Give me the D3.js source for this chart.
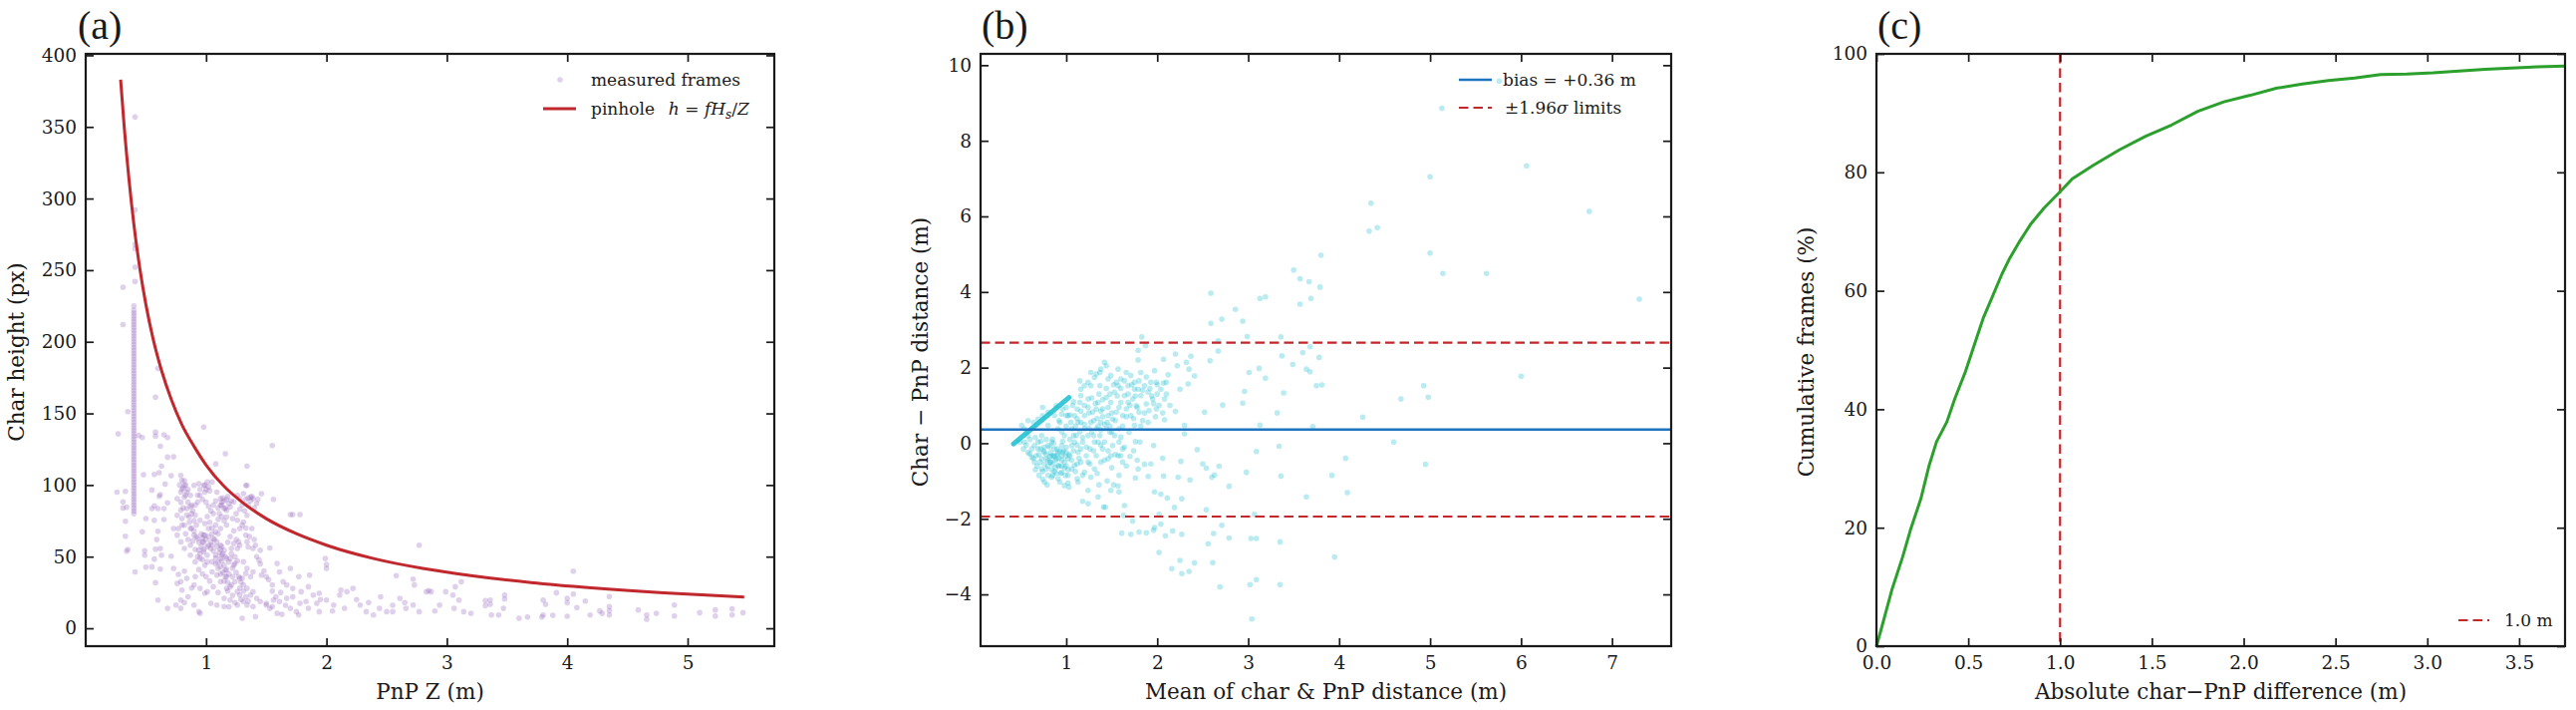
<!DOCTYPE html>
<html>
<head>
<meta charset="utf-8">
<script src="https://cdn.jsdelivr.net/npm/d3@7"></script>
<style>
  body { margin: 0; background: #fff; }
  svg text { font-family: "DejaVu Serif", serif; fill: #1a1a1a; }
</style>
</head>
<body>
<div id="graf"></div>
<script>
// ---- datos ----

// (a) measured frames: [PnP Z (m), char height (px)]
const framesA = [
  [0.27,135.7],[0.35,151.3],[0.26,95.1],[0.33,95.6],[0.31,88.2],[0.31,84.0],[0.34,84.5],[0.33,74.7],[0.33,64.3],[0.35,55.0],
  [0.34,53.8],[0.41,39.4],[0.47,67.3],[0.48,107.2],[0.47,133.2],[0.44,134.6],[0.58,161.3],[0.60,181.4],[0.58,136.9],[0.58,134.1],
  [0.65,135.0],[0.68,133.2],[0.62,127.1],[0.68,119.5],[0.73,119.7],[0.63,113.2],[0.61,108.6],[0.57,107.4],[0.71,106.5],[0.66,100.7],
  [0.55,96.5],[0.62,93.3],[0.61,92.1],[0.60,83.5],[0.55,83.5],[0.57,85.4],[0.68,87.5],[0.65,83.5],[0.50,76.6],[0.57,75.4],
  [0.65,75.9],[0.60,67.7],[0.59,61.9],[0.62,55.7],[0.58,55.2],[0.49,54.1],[0.49,51.0],[0.63,51.0],[0.57,48.3],[0.71,50.3],
  [0.50,42.7],[0.55,42.9],[0.62,41.3],[0.58,31.8],[0.60,19.7],[0.68,13.9],[0.75,16.2],[0.79,13.9],[0.79,19.7],[0.80,26.7],
  [0.76,31.3],[0.73,41.8],[0.77,37.6],[0.82,39.9],
  [0.79,106.7],[0.80,103.2],[0.82,99.8],[0.79,95.1],[0.76,90.5],[0.82,91.6],[0.84,95.1],[0.87,92.8],[0.90,99.8],[0.94,100.9],
  [0.98,99.8],[1.01,102.1],[1.02,98.6],[0.99,95.1],[0.95,92.8],[0.93,88.2],[0.88,85.8],[0.84,83.5],[0.79,82.4],[0.76,78.9],
  [0.80,76.6],[0.86,77.7],[0.91,78.9],[0.95,75.4],[0.99,73.1],[1.02,69.6],[0.98,65.0],[0.93,62.6],[0.97,60.3],[1.01,56.8],
  [1.05,58.0],[1.09,60.3],[1.12,58.0],[1.15,54.5],[1.13,51.0],[1.17,48.7],[1.19,46.4],[1.23,44.1],[1.16,40.6],[1.17,36.0],
  [1.22,36.0],[1.24,32.5],[1.28,34.8],[1.33,38.3],[1.31,30.2],[1.34,27.8],[1.37,23.2],[1.39,25.5],[1.42,20.9],[1.45,18.6],
  [1.50,16.2],[1.55,15.1],[1.56,19.7],[1.61,18.6],[1.67,20.9],[1.72,22.0],[1.78,17.4],[1.83,18.6],[1.89,23.2],[1.92,17.4],
  [1.94,11.6],[2.00,19.7],[2.06,16.2],[2.11,23.2],[2.12,26.7],[2.17,25.5],[2.22,27.8],[2.28,16.2],[2.33,11.6],[2.39,9.3],
  [2.44,13.9],[2.50,11.6],[2.55,11.6],[2.61,20.9],[2.66,13.9],[2.72,16.2],[2.77,11.6],[2.83,25.5],[2.87,25.5],[2.94,16.2],
  [2.99,25.5],[3.05,23.2],[3.06,13.9],[3.10,19.7],[3.14,11.6],[3.20,10.4],[2.77,58.0],[2.58,36.7],[2.72,34.3],[2.73,30.2],
  [2.85,26.2],[3.07,29.0],[3.12,32.5],
  [1.05,102.1],[1.09,95.1],[1.12,90.5],[1.13,85.8],[1.15,83.5],[1.17,82.4],[1.20,84.7],[1.23,88.2],[1.26,92.8],[1.28,90.5],
  [1.31,94.0],[1.34,99.8],[1.37,91.6],[1.39,90.5],[1.42,87.0],[1.46,94.0],[1.56,90.0],[1.34,78.9],[1.31,74.2],[1.26,75.4],
  [1.22,76.6],[1.17,77.7],[1.12,69.6],[1.08,67.3],[1.06,62.6],[1.04,55.7],[1.08,51.0],[1.12,48.7],[1.10,41.8],[1.05,39.4],
  [1.01,46.4],[0.95,48.7],[0.91,46.4],[0.87,51.0],[0.82,55.7],[0.79,60.3],[0.76,65.0],[0.73,69.6],[0.77,69.6],[0.82,71.9],
  [0.87,69.6],[0.90,65.0],[0.94,54.5],[0.98,53.4],[1.01,51.0],[1.05,46.4],[1.09,37.1],[1.12,32.5],[1.17,27.8],[1.21,30.2],
  [1.26,25.5],[1.28,23.2],[1.31,18.6],[1.34,16.2],[1.39,15.1],[1.26,16.2],[1.20,19.7],[1.15,20.9],[1.09,16.2],[1.04,17.4],
  [1.01,25.5],[0.99,24.4],[0.95,27.8],[0.90,30.2],[0.84,34.8],[0.79,32.5],[0.90,16.2],[0.94,11.6],[0.95,10.4],[1.15,15.1],
  [1.30,7.0],[1.41,8.1],[1.50,17.4],[1.53,13.9],[1.59,10.4],[1.63,9.7],[1.75,11.6],[1.77,9.3],[1.16,121.8],[1.08,114.8],
  [0.98,140.4],[1.55,127.6],[1.34,113.2],[1.33,99.8],[1.70,79.4],[1.72,79.4],[1.78,79.4],[1.38,69.6],[1.39,55.7],[1.41,58.0],
  [1.45,54.5],[1.53,56.1],[1.59,45.2],[1.61,39.4],[1.70,41.8],[1.77,36.0],[1.86,37.1],[1.99,48.7],[2.00,41.8],[2.00,44.5],
  [1.94,24.4],[1.85,29.0],[1.79,25.5],[1.72,27.8],[1.67,30.2],[1.64,32.5],[1.55,30.2],[1.50,36.0],[1.46,37.1],[1.44,47.6],
  [1.39,39.4],[1.37,36.0],[1.34,41.8],[1.31,46.4],[1.28,58.0],[1.26,55.7],[1.23,59.2],[1.21,55.7],[1.20,48.7],[1.24,45.2],
  [1.34,60.3],[1.35,56.8],[1.27,60.3],[1.28,69.6],[1.33,65.0],
  [1.13,88],[1.15,89],[1.17,90],[1.19,87],[1.12,86],[1.16,84],[1.14,91],[1.18,92],[1.21,89],[1.33,90],
  [1.35,91],[1.37,89],[1.38,92],[0.97,63],[0.98,60],[0.99,65],[1.00,62],[1.02,58],[0.96,66],[1.12,55],
  [1.14,52],[1.16,50],[1.13,57],[0.82,103],[0.83,100],[0.85,97],[0.81,98],[1.00,97],[0.99,100],[1.03,96],
  [0.88,80],[0.90,75],[0.92,72],[1.05,70],[1.08,72],[1.10,66],[1.10,76],[1.06,80],[1.20,64],[1.23,68],
  [1.25,62],[1.18,60],[1.21,52],[1.24,50],[1.26,47],[1.08,45],[1.12,38],[1.15,33],[1.18,26],[1.22,23],
  [1.28,28],[1.30,35],
  [0.78,100],[0.80,97],[0.83,93],[0.85,88],[0.87,85],[0.89,82],[0.91,86],[0.93,93],[0.95,97],[0.97,90],
  [0.79,88],[0.81,84],[0.84,79],[0.86,74],[0.88,70],[0.90,68],[0.92,64],[0.94,60],[0.96,57],[0.98,55],
  [0.80,72],[0.83,66],[0.85,62],[0.87,58],[0.89,61],[0.91,55],[0.93,50],[0.95,52],[0.97,48],[0.99,44],
  [1.00,88],[1.02,85],[1.04,82],[1.06,86],[1.08,89],[1.10,84],[1.11,80],[1.13,78],[1.15,75],[1.17,72],
  [1.01,78],[1.03,74],[1.05,66],[1.07,62],[1.09,57],[1.11,53],[1.13,47],[1.15,44],[1.17,41],[1.19,38],
  [1.02,64],[1.04,60],[1.06,54],[1.08,49],[1.10,46],[1.12,43],[1.14,39],[1.16,36],[1.18,32],[1.20,29],
  [1.22,42],[1.25,39],[1.27,36],[1.29,32],[1.31,26],[1.33,22],[1.35,19],[1.29,20],[1.24,18],[1.19,15],
  [1.10,25],[1.06,29],[1.03,33],[1.00,36],[0.97,38],[0.94,41],[0.91,36],[0.88,28],[0.85,22],[0.82,18],
  [1.25,80],[1.28,83],[1.30,86],[1.32,82],[1.35,86],[1.40,84],[1.43,90],[1.30,72],[1.33,70],[1.36,64],
  [1.40,62],[1.42,50],[1.45,45],[1.48,40],[1.52,34],[1.55,26],[1.58,22],[1.62,25],[1.66,16],[1.70,14],
  [1.85,14],[1.95,20],[2.05,12],[2.15,14],[2.25,20],[2.35,18],[2.45,22],[2.55,16],[2.65,18],[2.90,12],
  [0.41,357],[0.41,292],[0.41,268],[0.41,265],[0.41,252],[0.41,242],[0.31,238],[0.31,212],
  [3.32,19.3],[3.32,15.8],[3.36,19.7],[3.36,16.7],[3.37,9.3],[3.43,9.3],[3.47,13.9],[3.48,23.2],[3.48,20.4],[3.60,7.0],
  [3.67,7.9],[3.79,7.9],[3.80,9.3],[3.80,19.7],[3.82,16.7],[3.88,9.1],[3.91,24.8],[4.00,20.9],[4.00,17.9],[4.00,8.4],
  [4.05,39.9],[4.05,23.9],[4.08,14.4],[4.15,19.0],[4.19,9.3],[4.27,12.1],[4.29,10.4],[4.35,22.1],[4.35,15.1],[4.35,12.3],
  [4.35,9.3],[4.59,12.8],[4.66,9.3],[4.66,6.3],[4.74,10.4],[4.89,16.2],[4.89,8.6],[5.10,10.9],[5.23,12.8],[5.23,8.6],
  [5.37,13.5],[5.37,9.3],[5.46,10.9]
]

// (a) columna de frames a Z ~ 0.40 m
const columnZ = 0.40
const columnH = [80,82,84,86,88,90,92,94,96,98,100,102,104,106,108,110,112,114,116,118,120,122,124,126,128,130,
  132,134,136,138,140,142,144,146,148,150,152,154,156,158,160,162,164,166,168,170,172,174,176,178,180,182,184,186,
  188,190,192,194,196,198,200,202,204,206,208,210,212,214,216,218,220,222,225]

// (a) curva pinhole h = f Hs / Z
const pinholeZ = [0.29,0.32,0.36,0.40,0.45,0.50,0.56,0.63,0.71,0.80,0.90,1.00,1.15,1.30,1.50,1.75,2.00,2.40,2.80,3.20,3.70,4.20,4.80,5.47]
const pinholeH = [383,350,313,282,251,226,202,180,160,142,127,114,99,88,76.5,66,58,48.5,41.8,36.8,31.9,28.2,24.7,21.8]

// (b) Bland-Altman: [mean of char & PnP (m), char - PnP (m)]
const pointsB = [
  [4.33,5.61],[3.80,4.97],[3.50,4.58],[3.57,4.35],[3.67,4.27],[3.79,4.13],[3.69,3.83],[3.57,3.68],[3.13,3.83],[3.19,3.87],
  [2.59,3.97],[2.86,3.54],[2.71,3.28],[2.94,3.23],[2.59,3.17],[2.99,2.82],[2.67,2.71],[2.67,2.44],[2.58,2.18],[3.36,2.81],
  [3.37,2.31],[3.49,2.08],[3.60,2.40],[3.68,2.55],[3.78,2.27],[3.64,1.96],[3.68,1.89],[3.81,1.54],[3.75,1.52],[3.39,1.33],
  [3.01,1.87],[3.12,1.98],[3.19,1.72],[2.96,1.37],[2.94,1.06],[2.72,1.01],[2.52,0.82],[2.30,0.47],[2.30,0.25],[2.20,0.84],
  [2.08,0.62],[2.25,1.43],[2.34,1.57],[2.41,1.78],[2.35,1.96],[2.32,2.14],[2.37,2.30],[2.22,2.05],[2.20,2.36],[2.07,2.22],
  [2.12,1.81],[2.07,1.59],[1.99,1.61],[1.87,2.58],[1.83,2.81],[1.79,2.46],[1.79,2.20],[1.82,1.87],[3.13,0.48],[3.32,0.80],
  [3.71,0.44],[4.26,0.69],[3.09,-0.22],[3.34,-0.08],[3.36,-0.87],[2.98,-0.77],[2.79,-1.14],[2.68,-0.61],[2.63,-0.84],[2.60,-0.90],
  [2.54,-0.66],[2.50,-0.55],[2.44,-0.17],[2.36,-0.97],[2.26,-0.48],[2.23,-0.90],[2.27,-1.47],[2.19,-1.70],[2.11,-1.45],[2.04,-1.35],
  [1.97,-1.29],[1.93,-0.55],[1.86,-0.56],[1.79,-0.68],[1.76,-0.92],[1.90,-0.88],[2.07,-0.87],[1.96,-0.06],[2.06,-0.40],[1.81,0.03],
  [1.76,0.04],[1.64,-0.11],[1.60,0.16],[3.92,-0.85],[4.07,-0.40],[4.09,-1.31],[3.64,-1.42],[3.95,-3.01],[3.35,-2.61],[3.09,-2.52],
  [3.03,-2.52],[3.07,-1.88],[2.79,-2.51],[2.71,-2.17],[2.62,-2.39],[2.61,-3.16],[2.54,-1.76],[2.56,-2.66],[2.41,-3.17],[2.35,-3.39],
  [2.27,-3.45],[2.25,-3.10],[2.16,-3.32],[2.27,-2.41],[2.17,-2.32],[2.09,-2.45],[2.02,-2.89],[2.04,-2.14],[1.97,-2.23],[1.96,-2.30],
  [1.88,-2.37],[1.80,-2.35],[1.71,-2.41],[1.61,-2.38],[1.63,-1.91],[1.73,-2.06],[1.64,-1.65],[1.58,-1.29],[1.57,-1.13],[1.49,-1.25],
  [1.41,-1.69],[1.43,-1.69],[1.35,-1.42],[1.24,-1.60],[1.18,-1.54],[1.24,-1.25],[1.12,-0.94],[0.93,-1.03],[1.02,-1.05],[1.03,-1.16],
  [2.69,-3.80],[3.02,-3.74],[3.09,-3.61],[3.35,-3.74],[3.04,-4.65],[2.02,-1.88],
  [0.51,0.47],[0.53,-0.15],[0.54,0.03],[0.58,0.20],[0.62,0.38],[0.62,-0.37],[0.65,-0.06],[0.67,-0.33],[0.69,0.03],[0.71,-0.50],
  [0.73,0.20],[0.74,0.95],[0.76,-0.24],[0.78,-0.68],[0.80,-0.06],[0.80,0.47],[0.82,-0.50],[0.84,-0.33],[0.85,0.11],[0.85,-0.85],
  [0.87,0.73],[0.89,-0.41],[0.91,0.38],[0.91,-0.59],[0.93,0.55],[0.95,-0.06],[0.95,-0.77],[0.96,-0.24],[0.98,0.20],[0.98,-0.50],
  [1.00,0.73],[1.02,-0.85],[1.04,-0.33],[1.06,0.38],[1.06,-0.06],[1.07,1.00],[1.09,-0.59],[1.11,0.20],[1.13,0.55],[1.13,-0.24],
  [1.15,1.08],[1.15,1.65],[1.16,-0.50],[1.18,0.03],[1.20,0.73],[1.20,0.38],[1.22,-0.33],[1.24,1.17],[1.24,0.20],[1.26,-0.15],
  [1.27,1.87],[1.27,0.55],[1.29,0.82],[1.31,0.03],[1.33,1.83],[1.33,0.38],[1.35,1.08],[1.37,1.52],[1.37,0.20],[1.38,0.55],
  [1.40,0.91],[1.42,2.14],[1.42,0.03],[1.44,1.21],[1.44,0.38],[1.46,1.70],[1.46,0.73],[1.48,0.29],[1.49,1.08],[1.49,-0.33],
  [1.51,0.64],[1.53,1.35],[1.53,0.20],[1.55,0.82],[1.57,1.96],[1.57,1.52],[1.58,0.38],[1.60,1.08],[1.60,-0.33],[1.62,0.73],
  [1.64,1.26],[1.66,0.91],[1.68,1.52],[1.69,0.29],[1.71,1.79],[1.71,0.73],[1.73,1.17],[1.75,1.61],[1.75,0.47],[1.77,0.99],
  [1.79,1.43],[1.80,0.82],[1.82,1.26],[1.84,0.60],[1.86,1.52],[1.88,1.04],[1.90,1.35],[1.91,0.86],[1.93,1.61],[1.95,1.17],
  [1.97,1.92],[1.99,0.91],[2.00,1.30],[2.04,1.43],[2.08,1.17],[2.10,1.61],[1.57,-0.33],[1.62,-0.50],[1.58,0.03],[1.51,-0.06],
  [1.46,-0.41],[1.38,-0.50],[1.31,-0.68],[1.27,-0.90],[1.20,-0.77],[1.13,-1.03],[1.06,-0.68],[0.76,-1.03],[0.65,-0.50],[0.60,-0.28],
  [0.54,0.38],[0.80,-0.85],[0.91,-0.94],[0.98,-1.12],[0.73,-0.68],[1.16,0.55],[1.09,0.73],[1.02,0.73],[0.95,0.77],[0.89,0.99],
  [0.80,0.82],[0.74,0.73],[0.69,0.64],[0.64,0.55],[0.58,0.60],[0.49,0.03],[1.00,-0.11],[0.95,-0.33],[1.02,-0.41],[0.87,-0.33],
  [0.84,0.03],[0.78,-0.41],[0.73,-0.41],[0.69,-0.15],[1.09,0.03],[1.16,-0.15],[1.24,-0.50],[1.33,-0.33],[1.40,-0.15],[1.35,0.03],
  [1.16,1.43],[1.20,1.52],[1.24,1.61],[1.31,1.74],[1.38,1.96],[1.44,2.05],[1.37,1.87],[1.27,1.52],[1.49,1.79],[1.55,1.61],
  [1.60,1.70],[1.66,1.87],[1.16,1.26],[1.68,1.08],[1.75,1.43],
  [0.75,-0.20],[0.78,-0.30],[0.80,-0.45],[0.83,-0.25],[0.85,-0.55],[0.87,-0.15],[0.88,-0.45],[0.90,-0.30],[0.92,-0.60],[0.95,-0.45],
  [0.97,-0.20],[0.99,-0.35],[0.86,-0.35],[0.82,-0.10],[0.76,-0.55],[0.72,-0.15],[0.93,-0.20],[1.00,-0.60],[0.84,-0.70],[0.89,-0.80],
  [1.10,0.45],[1.15,0.30],[1.20,0.50],[1.25,0.40],[1.30,0.60],[1.35,0.45],[1.40,0.70],[1.45,0.55],[1.50,0.80],[1.25,0.80],
  [1.33,0.90],[1.12,0.65],[1.05,0.55],[0.95,0.30],[1.00,0.45],[1.08,0.20],[1.18,0.15],[1.28,0.30],[1.38,0.35],[1.48,0.45],
  [0.56,-0.05],[0.58,-0.25],[0.60,0.10],[0.62,-0.15],[0.64,-0.40],[0.66,0.15],[0.68,-0.60],[0.70,-0.30],[0.72,0.05],[0.74,-0.75],
  [0.76,-0.10],[0.78,0.10],[0.80,-0.60],[0.82,-0.35],[0.84,-0.90],[0.86,0.00],[0.88,-0.65],[0.90,-0.15],[0.92,-0.40],[0.94,-0.80],
  [0.96,0.05],[0.98,-0.65],[1.00,-0.25],[1.02,-0.70],[1.04,0.10],[1.06,-0.45],[1.08,-0.20],[1.10,-0.75],[1.12,-0.05],[1.14,-0.40],
  [0.66,-0.70],[0.70,-0.85],[0.74,-0.95],[0.79,-1.10],[0.83,-0.50],[0.87,-0.75],[0.91,-0.25],[0.95,-0.60],[0.99,-0.85],[1.03,-0.30],
  [0.92,0.60],[0.96,0.90],[1.00,0.95],[1.04,0.75],[1.08,1.10],[1.12,0.90],[1.16,0.85],[1.20,1.00],[1.24,0.95],[1.28,1.20],
  [1.32,1.05],[1.36,1.30],[1.40,1.15],[1.44,1.45],[1.48,1.30],[1.52,1.55],[1.56,1.25],[1.60,1.45],[1.64,1.65],[1.68,1.30],
  [1.72,1.55],[1.76,1.25],[1.80,1.65],[1.84,1.40],[1.88,1.75],[1.92,1.45],[1.96,1.05],[2.00,1.55],[1.30,0.20],[1.34,0.65],
  [1.38,0.85],[1.42,0.50],[1.46,0.95],[1.50,0.30],[1.54,0.60],[1.58,0.95],[1.62,0.45],[1.66,0.70],[1.70,1.00],[1.74,0.65],
  [1.78,0.95],[1.82,0.45],[1.86,0.80],[1.90,0.55],[1.94,1.25],[1.98,0.70],[2.02,1.00],[2.06,0.80],[2.10,1.30],[2.14,1.00],
  [1.12,-0.55],[1.18,-0.85],[1.22,-0.10],[1.26,-0.55],[1.30,-0.20],[1.34,-0.80],[1.38,-0.05],[1.42,-0.45],[1.46,-0.20],[1.50,-0.65],
  [1.54,-0.30],[1.58,-0.85],[1.62,-0.15],[1.66,-0.60],[1.70,-0.35],[1.74,-0.20],[1.78,-0.45],[1.45,-1.00],[1.52,-1.10],[1.36,-1.10],
  [4.35,6.35],[4.42,5.70],[5.00,7.05],[5.00,5.03],[5.14,4.49],[6.06,7.34],[6.75,6.13],[5.62,4.49],[7.30,3.81],[6.00,1.77],
  [4.93,1.52],[4.98,1.22],[4.68,1.17],[4.60,0.03],[4.95,-0.56],[5.76,9.58],[5.13,8.86]
]

// (b) franja diagonal de puntos superpuestos
const streakMean = [0.42, 1.03]
const streakDiff = [-0.02, 1.21]

const biasValue = 0.36
const loaValues = [-1.94, 2.66]

// (c) CDF de |char - PnP|
const cdfDiff = [0,0.028,0.085,0.142,0.185,0.242,0.285,0.327,0.384,0.427,0.484,0.526,0.583,0.626,0.683,0.726,0.783,0.839,0.911,0.996,
  1.067,1.181,1.323,1.466,1.608,1.750,1.892,2.035,2.177,2.319,2.462,2.604,2.746,2.888,3.031,3.173,3.315,3.458,3.600,3.75]
const cdfPct = [0,3.1,9.6,15.0,19.6,24.9,30.3,34.5,37.9,41.8,46.3,50.2,55.5,58.6,62.8,65.5,68.5,71.2,73.9,76.6,
  78.9,81.2,83.8,86.1,88.0,90.3,91.9,93.0,94.2,94.9,95.5,95.9,96.5,96.6,96.8,97.1,97.4,97.6,97.8,97.95]
const thresholdM = 1.0

// ticks
const ticksAx = [1,2,3,4,5], ticksAy = [0,50,100,150,200,250,300,350,400]
const ticksBx = [1,2,3,4,5,6,7], ticksBy = [-4,-2,0,2,4,6,8,10]
const ticksCx = [0,0.5,1,1.5,2,2.5,3,3.5], ticksCy = [0,20,40,60,80,100]

// ---- lienzo ----
const W = 2585, H = 712
const top_ = 54, bottom_ = 648
const red = '#c0282d', purple = '#9467bd', cyan = '#17becf', blue = '#1f74c0', green = '#2ca02c'

const svg = d3.select('#graf').append('svg').attr('width', W).attr('height', H)

function panel(left, right, xDom, yDom) {
  const x = d3.scaleLinear().domain(xDom).range([left, right])
  const y = d3.scaleLinear().domain(yDom).range([bottom_, top_])
  const g = svg.append('g')
  const data = g.append('g')
  const axes = g.append('g')
  return { x, y, g, data, axes, left, right }
}

function drawAxes(p, xTicks, yTicks, xFmt) {
  const a = p.axes
  a.append('g').attr('transform', `translate(0,${bottom_})`)
    .call(d3.axisBottom(p.x).tickValues(xTicks).tickSize(-8).tickPadding(10).tickFormat(xFmt || d3.format('d')))
  a.append('g').attr('transform', `translate(0,${top_})`)
    .call(d3.axisTop(p.x).tickValues(xTicks).tickSize(-8).tickFormat(''))
  a.append('g').attr('transform', `translate(${p.left},0)`)
    .call(d3.axisLeft(p.y).tickValues(yTicks).tickSize(-8).tickPadding(9))
  a.append('g').attr('transform', `translate(${p.right},0)`)
    .call(d3.axisRight(p.y).tickValues(yTicks).tickSize(-8).tickFormat(''))
  a.selectAll('.domain').remove()
  a.selectAll('.tick line').attr('stroke', '#1a1a1a').attr('stroke-width', 1.7)
  a.selectAll('.tick text').style('font-size', '18.5px').attr('fill', '#1a1a1a')
  a.append('rect').attr('x', p.left).attr('y', top_)
    .attr('width', p.right - p.left).attr('height', bottom_ - top_)
    .attr('fill', 'none').attr('stroke', '#1a1a1a').attr('stroke-width', 2.2)
}

function labels(p, lab, xl, yl, yx) {
  svg.append('text').attr('x', lab[0]).attr('y', 38.5).text(lab[1])
    .style('font-family', '"Liberation Serif", serif').style('font-size', '40px')
  svg.append('text').attr('x', (p.left + p.right) / 2).attr('y', 701)
    .attr('text-anchor', 'middle').style('font-size', '21.5px').text(xl)
  svg.append('text').attr('transform', `translate(${yx},353) rotate(-90)`)
    .attr('text-anchor', 'middle').style('font-size', '21.5px').text(yl)
}

// ---- (a) ----
const pA = panel(86, 777, [0, 5.72], [-12.5, 401])
const colPts = columnH.map(h => [columnZ, h])
pA.data.selectAll('circle.f').data(framesA.concat(colPts)).join('circle')
  .attr('cx', d => pA.x(d[0])).attr('cy', d => pA.y(d[1])).attr('r', 2.8)
  .attr('fill', purple).attr('fill-opacity', 0.3)
const pinLine = d3.line().x((d, i) => pA.x(pinholeZ[i])).y(d => pA.y(d)).curve(d3.curveMonotoneX)
pA.data.append('path').attr('d', pinLine(pinholeH))
  .attr('fill', 'none').attr('stroke', red).attr('stroke-width', 3)
drawAxes(pA, ticksAx, ticksAy)
labels(pA, [78, '(a)'], 'PnP Z (m)', 'Char height (px)', 24)

// leyenda (a)
svg.append('circle').attr('cx', 562).attr('cy', 80).attr('r', 2.8).attr('fill', purple).attr('fill-opacity', 0.3)
svg.append('text').attr('x', 593).attr('y', 80).attr('dy', '0.35em').style('font-size', '17px').text('measured frames')
svg.append('line').attr('x1', 545).attr('x2', 578).attr('y1', 109).attr('y2', 109).attr('stroke', red).attr('stroke-width', 3)
const tA = svg.append('text').attr('x', 593).attr('y', 109).attr('dy', '0.35em').style('font-size', '17px')
tA.append('tspan').text('pinhole\u2002 ')
tA.append('tspan').style('font-style', 'italic').text('h')
tA.append('tspan').text(' = ')
tA.append('tspan').style('font-style', 'italic').text('fH')
tA.append('tspan').style('font-style', 'italic').style('font-size', '12px').attr('dy', '4').text('s')
tA.append('tspan').attr('dy', '-4').text('/')
tA.append('tspan').style('font-style', 'italic').text('Z')

// ---- (b) ----
const pB = panel(984, 1677, [0.058, 7.65], [-5.37, 10.3])
pB.data.selectAll('circle.b').data(pointsB).join('circle')
  .attr('cx', d => pB.x(d[0])).attr('cy', d => pB.y(d[1])).attr('r', 2.8)
  .attr('fill', cyan).attr('fill-opacity', 0.3)
pB.data.append('line')
  .attr('x1', pB.x(streakMean[0])).attr('y1', pB.y(streakDiff[0]))
  .attr('x2', pB.x(streakMean[1])).attr('y2', pB.y(streakDiff[1]))
  .attr('stroke', cyan).attr('stroke-opacity', 0.85).attr('stroke-width', 5).attr('stroke-linecap', 'round')
pB.data.append('line').attr('x1', pB.left).attr('x2', pB.right)
  .attr('y1', pB.y(biasValue)).attr('y2', pB.y(biasValue))
  .attr('stroke', blue).attr('stroke-width', 2.6)
pB.data.selectAll('line.loa').data(loaValues).join('line').attr('class', 'loa')
  .attr('x1', pB.left).attr('x2', pB.right).attr('y1', d => pB.y(d)).attr('y2', d => pB.y(d))
  .attr('stroke', red).attr('stroke-width', 2.2).attr('stroke-dasharray', '9.5,5')
drawAxes(pB, ticksBx, ticksBy)
labels(pB, [985, '(b)'], 'Mean of char & PnP distance (m)', 'Char \u2212 PnP distance (m)', 931)

// leyenda (b)
svg.append('line').attr('x1', 1464).attr('x2', 1497).attr('y1', 80).attr('y2', 80).attr('stroke', blue).attr('stroke-width', 2.6)
svg.append('text').attr('x', 1508).attr('y', 80).attr('dy', '0.35em').style('font-size', '17px').text('bias = +0.36 m')
svg.append('line').attr('x1', 1464).attr('x2', 1497).attr('y1', 108).attr('y2', 108)
  .attr('stroke', red).attr('stroke-width', 2.2).attr('stroke-dasharray', '9.5,5')
const tB = svg.append('text').attr('x', 1510).attr('y', 108).attr('dy', '0.35em').style('font-size', '17px')
tB.append('tspan').text('\u00b11.96')
tB.append('tspan').style('font-style', 'italic').text('\u03c3')
tB.append('tspan').text(' limits')

// ---- (c) ----
const pC = panel(1883, 2574, [0, 3.75], [0, 100])
const cdfLine = d3.line().x((d, i) => pC.x(cdfDiff[i])).y(d => pC.y(d))
pC.data.append('line').attr('x1', pC.x(thresholdM)).attr('x2', pC.x(thresholdM))
  .attr('y1', top_).attr('y2', bottom_)
  .attr('stroke', red).attr('stroke-width', 2.2).attr('stroke-dasharray', '9.5,5')
pC.data.append('path').attr('d', cdfLine(cdfPct))
  .attr('fill', 'none').attr('stroke', green).attr('stroke-width', 3).attr('stroke-linejoin', 'round')
drawAxes(pC, ticksCx, ticksCy, d3.format('.1f'))
labels(pC, [1884, '(c)'], 'Absolute char\u2212PnP difference (m)', 'Cumulative frames (%)', 1820)

// leyenda (c)
svg.append('line').attr('x1', 2467).attr('x2', 2498).attr('y1', 622).attr('y2', 622)
  .attr('stroke', red).attr('stroke-width', 2.2).attr('stroke-dasharray', '9.5,5')
svg.append('text').attr('x', 2513).attr('y', 622).attr('dy', '0.35em').style('font-size', '17px').text('1.0 m')
</script>
</body>
</html>
